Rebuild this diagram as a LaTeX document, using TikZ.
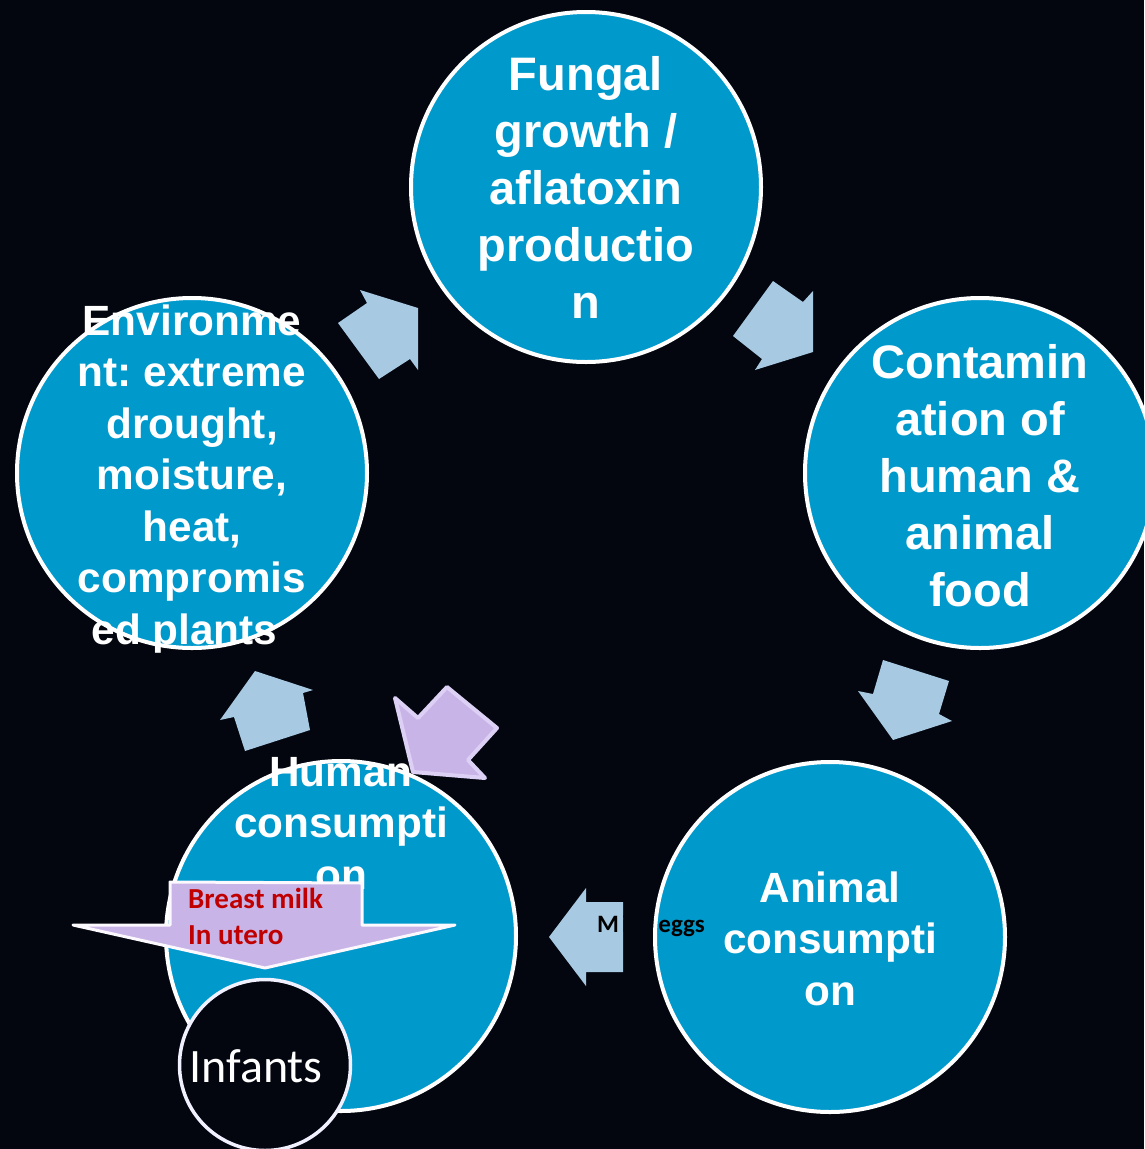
\documentclass[tikz,border=0pt]{standalone}
\usepackage{fontspec}
\setmainfont{Liberation Sans}
\newfontfamily\calib{Carlito}
\frenchspacing
\definecolor{bgc}{HTML}{03060F}
\definecolor{circc}{HTML}{0099CC}
\definecolor{arrc}{HTML}{A8C9E2}
\definecolor{purpc}{HTML}{C9B4E8}
\definecolor{purpb}{HTML}{DDD0F5}
\definecolor{redc}{HTML}{C00000}
\definecolor{hidc}{HTML}{03060F}
\tikzset{
  bigcirc/.style={circle, draw=white, line width=4pt, fill=circc, minimum size=350pt, inner sep=0pt},
  blockarrow/.style={fill=arrc, draw=none},
  purparrow/.style={fill=purpc, draw=purpb, line width=4pt, line join=round},
  milkarrow/.style={fill=purpc, draw=white!92!purpc, line width=3pt, line join=round},
  bigtext/.style={text=white, align=center, anchor=north, inner sep=0pt, font=\fontsize{47}{57}\selectfont\bfseries},
  midtext/.style={text=white, align=center, anchor=north, inner sep=0pt, font=\fontsize{42.3}{51.5}\selectfont\bfseries},
}
\newcommand{\topstrut}{\rule{0pt}{40pt}}
\begin{document}
\begin{tikzpicture}[x=1pt,y=-1pt]
\fill[bgc] (0,0) rectangle (1144,1149);
\useasboundingbox (0,0) rectangle (1144,1149);
% circles
\node[bigcirc] (fung) at (586,187) {};
\node[bigcirc] (cont) at (980,473) {};
\node[bigcirc] (anim) at (830,937) {};
\node[bigcirc] (hum) at (341,936) {};
\node[bigcirc] (env) at (192,473) {};
% texts
\node[bigtext] (tfung) at (586,50) {\topstrut Fungal\\growth /\\aflatoxin\\productio\\n};
\node[bigtext] (tcont) at (980,338) {\topstrut Contamin\\ation of\\human \&\\animal\\food};
\node[midtext] (tanim) at (830,862) {\topstrut Animal\\consumpti\\on};
\node[midtext] (tenv) at (192,295) {\topstrut Environme\\nt: extreme\\drought,\\moisture,\\heat,\\compromis\\ed plants\kern15pt};
\node[midtext] (thum) at (341,746) {\topstrut Human\\consumpti\\on};
% blue block arrows
\path[blockarrow] (360,290) -- (418,308) -- (418,370) -- (410,359) -- (379,379) -- (338,323) -- (367,303) -- cycle;
\path[blockarrow] (773,281) -- (803,302) -- (813,291) -- (813,352) -- (755,370) -- (762,359) -- (733,336) -- cycle;
\path[blockarrow] (883,660) -- (949,681) -- (939,714) -- (952,721) -- (893,740) -- (858,691) -- (873,694) -- cycle;
\path[blockarrow] (549,937) -- (586,888) -- (586,902) -- (623,902) -- (623,972) -- (586,972) -- (586,986) -- cycle;
\path[blockarrow] (255,671) -- (313,690) -- (303,693) -- (310,730) -- (245,751) -- (234,717) -- (220,720) -- cycle;
% milk/eggs label (black text: only visible on light/blue areas)
\node[anchor=base west, inner sep=0pt, text=black, font=\calib\fontsize{25}{32}\selectfont\bfseries] (meggs) at (597,932) {M\kern3pt{\color{hidc}ilk,} eggs};
% purple arrow
\path[purparrow] (395,698) -- (418,718) -- (447,687) -- (497,728) -- (468,760) -- (485,778) -- (413,772) -- cycle;
% breast milk arrow
\path[milkarrow] (170,882) -- (362,883) -- (362,925) -- (455,925) -- (265,968) -- (73,925) -- (170,925) -- cycle;
\node[anchor=north west, inner sep=0pt, align=left, text=redc, font=\calib\fontsize{29}{36}\selectfont\bfseries] (tmilk) at (188,878) {\rule{0pt}{30pt}Breast milk\\In utero};
% infants
\node[circle, draw=white!94!blue, line width=3.5pt, fill=bgc, minimum size=171pt, inner sep=0pt] (inf) at (265,1065) {};
\node[anchor=base, inner sep=0pt, text=white, font=\calib\fontsize{48}{52}\selectfont] (tinf) at (256,1082) {Infants};
\end{tikzpicture}
\end{document}
